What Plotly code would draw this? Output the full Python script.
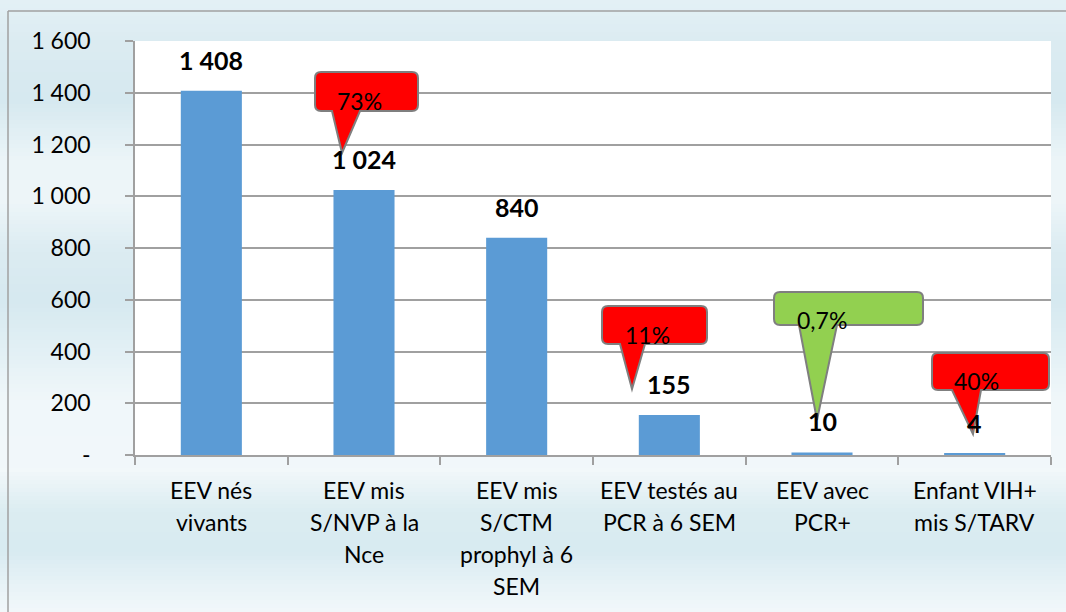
import plotly.graph_objects as go

# ---------------- data ----------------
categories = [
    "EEV nés<br>vivants",
    "EEV mis<br>S/NVP à la<br>Nce",
    "EEV mis<br>S/CTM<br>prophyl à 6<br>SEM",
    "EEV testés au<br>PCR à 6 SEM",
    "EEV avec<br>PCR+",
    "Enfant VIH+<br>mis S/TARV",
]
values = [1408, 1024, 840, 155, 10, 4]
pct_labels = ["", "73%", "", "11%", "0,7%", "40%"]
pct_colors = [None, "#ff0000", None, "#ff0000", "#92d050", "#ff0000"]
y_tickvals = [0, 200, 400, 600, 800, 1000, 1200, 1400, 1600]
y_ticktext = ["-", "200", "400", "600", "800", "1 000", "1 200", "1 400", "1 600"]

# ---------------- layout geometry ----------------
W_PX, H_PX = 1066, 612
ML, MR, MT, MB = 135, 15, 41, 157
PW = W_PX - ML - MR
PH = H_PX - MT - MB
FONT = "Lato, 'Open Sans', sans-serif"


def px(x):
    return (x - ML) / PW


def py(y):
    return (H_PX - MB - y) / PH


def hex2rgb(h):
    h = h.lstrip("#")
    return tuple(int(h[i:i + 2], 16) for i in (0, 2, 4))


shapes = []

# background gradient (styling only)
stops = [
    (0, "#e4f1f6"), (40, "#dcecf2"), (100, "#d6e9f0"), (160, "#ecf5f8"),
    (200, "#eef6f9"), (250, "#dcecf2"), (300, "#d6e9f0"), (340, "#e0eff4"),
    (400, "#f0f7fa"), (470, "#f2f8fa"), (510, "#dcedf2"), (550, "#d8ebf1"),
    (585, "#e8f3f7"), (612, "#f2f8fb"),
]
step = 4
for y0 in range(0, H_PX, step):
    yc = y0 + step / 2
    for (a, ca), (b, cb) in zip(stops[:-1], stops[1:]):
        if a <= yc <= b:
            t = (yc - a) / (b - a)
            r1, g1, b1 = hex2rgb(ca)
            r2, g2, b2 = hex2rgb(cb)
            col = "rgb(%d,%d,%d)" % (r1 + (r2 - r1) * t, g1 + (g2 - g1) * t, b1 + (b2 - b1) * t)
            break
    shapes.append(dict(type="rect", xref="paper", yref="paper", layer="below",
                       x0=px(0), x1=px(W_PX), y0=py(y0), y1=py(y0 + step + 0.5),
                       line=dict(width=0), fillcolor=col))
# white plot area
shapes.append(dict(type="rect", xref="paper", yref="paper", layer="below",
                   x0=0, x1=1, y0=0, y1=1, line=dict(width=0), fillcolor="white"))
# outer frame (left and top edges)
shapes.append(dict(type="line", xref="paper", yref="paper", layer="above",
                   x0=px(8), x1=px(8), y0=py(11), y1=py(H_PX + 5),
                   line=dict(color="#a0a0a0", width=1.5)))
shapes.append(dict(type="line", xref="paper", yref="paper", layer="above",
                   x0=px(8), x1=px(W_PX + 5), y0=py(11), y1=py(11),
                   line=dict(color="#a0a0a0", width=1.5)))

# callout geometry in pixels: rect (x0, y0, x1, y1), pointer base (bx0, bx1), tip (tx, ty), text centre
callouts = {
    1: dict(rect=(315, 72, 418, 111), base=(332, 360), tip=(342, 153), text=(359, 101)),
    3: dict(rect=(602, 306, 707, 344), base=(620, 645), tip=(632, 389), text=(647, 335)),
    4: dict(rect=(774, 292, 923, 325), base=(799, 837), tip=(817, 420), text=(822, 320)),
    5: dict(rect=(932, 353, 1049, 390), base=(952, 981), tip=(973, 434), text=(976, 381)),
}


def callout_path(rect, base, tip, r=6):
    x0, y0, x1, y1 = rect
    bx0, bx1 = base
    tx, ty = tip
    pts = [
        ("M", (x0 + r, y0)), ("L", (x1 - r, y0)), ("Q", (x1, y0), (x1, y0 + r)),
        ("L", (x1, y1 - r)), ("Q", (x1, y1), (x1 - r, y1)), ("L", (bx1, y1)),
        ("L", (tx, ty)), ("L", (bx0, y1)), ("L", (x0 + r, y1)),
        ("Q", (x0, y1), (x0, y1 - r)), ("L", (x0, y0 + r)), ("Q", (x0, y0), (x0 + r, y0)),
    ]
    s = ""
    for p in pts:
        cmd = p[0]
        coords = " ".join("%.5f,%.5f" % (px(a), py(b)) for a, b in p[1:])
        s += cmd + coords + " "
    return s + "Z"


annotations = []
for i, lab in enumerate(pct_labels):
    if not lab:
        continue
    c = callouts[i]
    shapes.append(dict(type="path", xref="paper", yref="paper", layer="above",
                       path=callout_path(c["rect"], c["base"], c["tip"]),
                       fillcolor=pct_colors[i], line=dict(color="#7f7f7f", width=2)))
    annotations.append(dict(xref="paper", yref="paper", x=px(c["text"][0]), y=py(c["text"][1]),
                            text=lab, showarrow=False, xanchor="center", yanchor="middle",
                            font=dict(family=FONT, size=23, color="#000000")))

# value labels above the bars
for cat, v in zip(categories, values):
    annotations.append(dict(x=cat, y=v, xref="x", yref="y", text="<b>%s</b>" % f"{v:,}".replace(",", " "),
                            showarrow=False, xanchor="center", yanchor="bottom", yshift=14,
                            font=dict(family=FONT, size=25, color="#000000")))

# category labels, one annotation per line
for cat in categories:
    for k, line in enumerate(cat.split("<br>")):
        annotations.append(dict(x=cat, xref="x", yref="paper", y=py(490 + 32 * k),
                                text=line, showarrow=False, xanchor="center", yanchor="middle",
                                font=dict(family=FONT, size=23, color="#000000")))

fig = go.Figure(go.Bar(x=categories, y=values, marker=dict(color="#5b9bd5", line=dict(width=0)),
                       width=0.4, hoverinfo="x+y"))

fig.update_layout(
    width=W_PX, height=H_PX,
    margin=dict(l=ML, r=MR, t=MT, b=MB, pad=0),
    paper_bgcolor="#e8f3f7", plot_bgcolor="white",
    showlegend=False, shapes=shapes, annotations=annotations,
    font=dict(family=FONT, size=22, color="#000000"),
)
fig.update_xaxes(showticklabels=False, ticks="outside", tickson="boundaries", ticklen=8,
                 tickcolor="#a0a0a0", tickwidth=1.5, showline=True, linecolor="#a0a0a0",
                 linewidth=1.5, showgrid=False, range=[-0.5, 5.5])
fig.update_yaxes(range=[0, 1600], tickvals=y_tickvals, ticktext=y_ticktext, ticks="outside",
                 ticklen=8, tickcolor="#a0a0a0", tickwidth=1.5, showline=True, linecolor="#a0a0a0",
                 linewidth=1.5, showgrid=True, gridcolor="#a0a0a0", gridwidth=1.5, zeroline=False,
                 ticklabelstandoff=30, tickfont=dict(family=FONT, size=23, color="#000000"))

fig.write_html("out.html", config={"displayModeBar": False},
               post_script="document.body.style.margin='0px';document.body.style.overflow='hidden';")
